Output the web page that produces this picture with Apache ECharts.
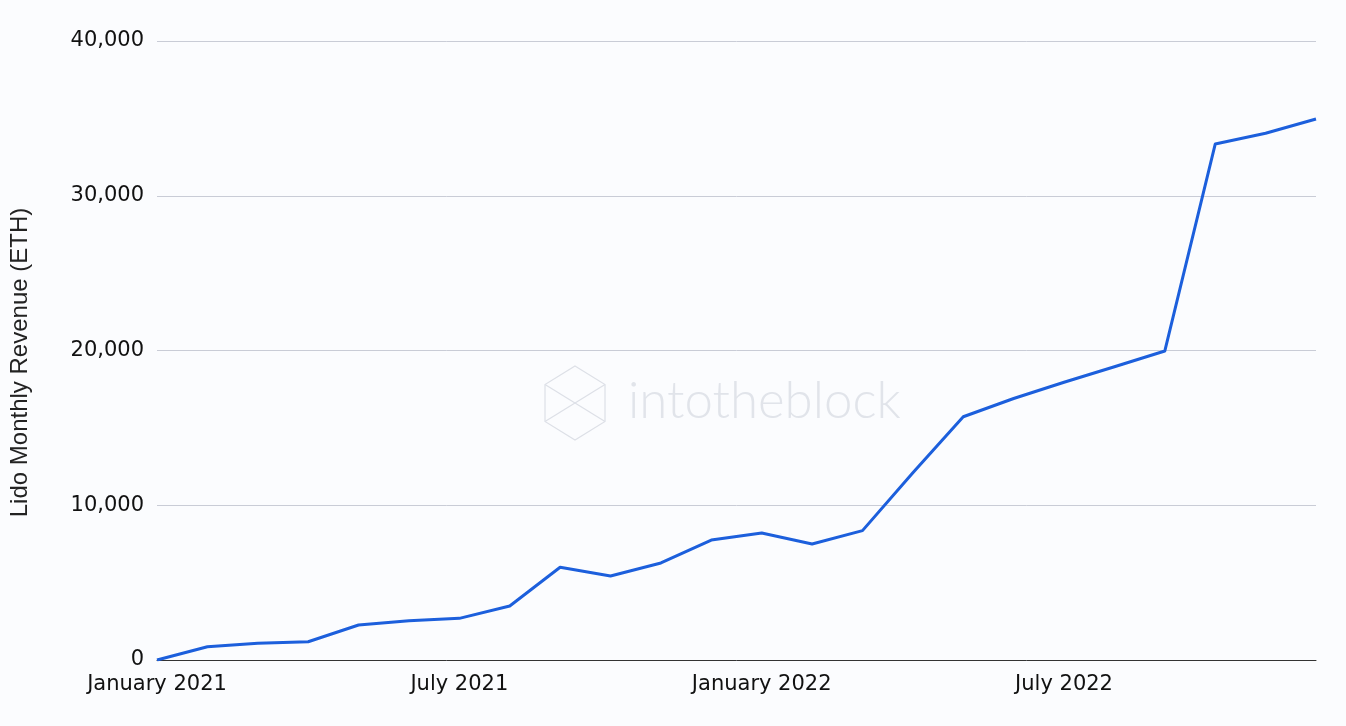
<!DOCTYPE html>
<html>
<head>
<meta charset="utf-8">
<script src="https://cdn.jsdelivr.net/npm/echarts@6/dist/echarts.min.js"></script>
<style>
html,body{margin:0;padding:0;background:#fbfcfe;}
#chart{width:1346px;height:726px;}
</style>
</head>
<body>
<div id="chart"></div>
<script>
const months = [
  "January 2021","February 2021","March 2021","April 2021","May 2021","June 2021",
  "July 2021","August 2021","September 2021","October 2021","November 2021","December 2021",
  "January 2022","February 2022","March 2022","April 2022","May 2022","June 2022",
  "July 2022","August 2022","September 2022","October 2022","November 2022","December 2022"
];
const revenueETH = [
  0, 860, 1080, 1180, 2260, 2540,
  2690, 3490, 5990, 5430, 6270, 7750,
  8210, 7500, 8360, 12100, 15720, 16900,
  17950, 18950, 19970, 33340, 34040, 34960
];
const yTicks = [0, 10000, 20000, 30000, 40000];
const yAxisTitle = "Lido Monthly Revenue (ETH)";
const watermark = "intotheblock";

const chart = echarts.init(document.getElementById('chart'));
const hexCx = 575, hexCy = 403, hw = 30, hh = 37;
chart.setOption({
  backgroundColor: '#fbfcfe',
  animation: false,
  grid: {left: 155, right: 30, top: 41, bottom: 66, containLabel: false},
  graphic: [
    {
      type: 'polygon', z: 0, silent: true,
      shape: {points: [[hexCx, hexCy - hh], [hexCx + hw, hexCy - hh/2], [hexCx + hw, hexCy + hh/2], [hexCx, hexCy + hh], [hexCx - hw, hexCy + hh/2], [hexCx - hw, hexCy - hh/2]]},
      style: {fill: 'none', stroke: '#dde0e7', lineWidth: 1.2}
    },
    {
      type: 'polyline', z: 0, silent: true,
      shape: {points: [[hexCx - hw, hexCy - hh/2], [hexCx, hexCy], [hexCx + hw, hexCy + hh/2]]},
      style: {fill: 'none', stroke: '#dde0e7', lineWidth: 1.2}
    },
    {
      type: 'polyline', z: 0, silent: true,
      shape: {points: [[hexCx + hw, hexCy - hh/2], [hexCx, hexCy], [hexCx - hw, hexCy + hh/2]]},
      style: {fill: 'none', stroke: '#dde0e7', lineWidth: 1.2}
    },
    {
      type: 'text', z: 0, silent: true, left: 628, top: 376,
      style: {text: watermark, fill: '#e1e4ea', font: '300 51px Lato, "Open Sans", sans-serif'}
    }
  ],
  xAxis: {
    type: 'category',
    data: months,
    boundaryGap: false,
    axisLine: {show: true, lineStyle: {color: '#333', width: 1}},
    axisTick: {show: false},
    splitLine: {show: false},
    axisLabel: {
      interval: 5,
      margin: 14,
      color: '#111',
      fontFamily: 'DejaVu Sans',
      fontSize: 21
    }
  },
  yAxis: {
    type: 'value',
    min: yTicks[0],
    max: yTicks[yTicks.length - 1],
    interval: yTicks[1] - yTicks[0],
    name: yAxisTitle,
    nameLocation: 'middle',
    nameGap: 125,
    nameRotate: 90,
    nameTextStyle: {color: '#222', fontFamily: 'Liberation Sans', fontSize: 24, padding: [0, 24, 0, 0]},
    axisLine: {show: false},
    axisTick: {show: false},
    splitLine: {show: true, lineStyle: {color: '#c9ccd6', width: 1}},
    axisLabel: {
      margin: 13,
      color: '#111',
      fontFamily: 'DejaVu Sans',
      fontSize: 21,
      formatter: v => v.toLocaleString('en-US')
    }
  },
  series: [{
    type: 'line',
    data: revenueETH,
    symbol: 'none',
    z: 3,
    lineStyle: {color: '#1c5fdc', width: 3, join: 'round'}
  }]
});
</script>
</body>
</html>
